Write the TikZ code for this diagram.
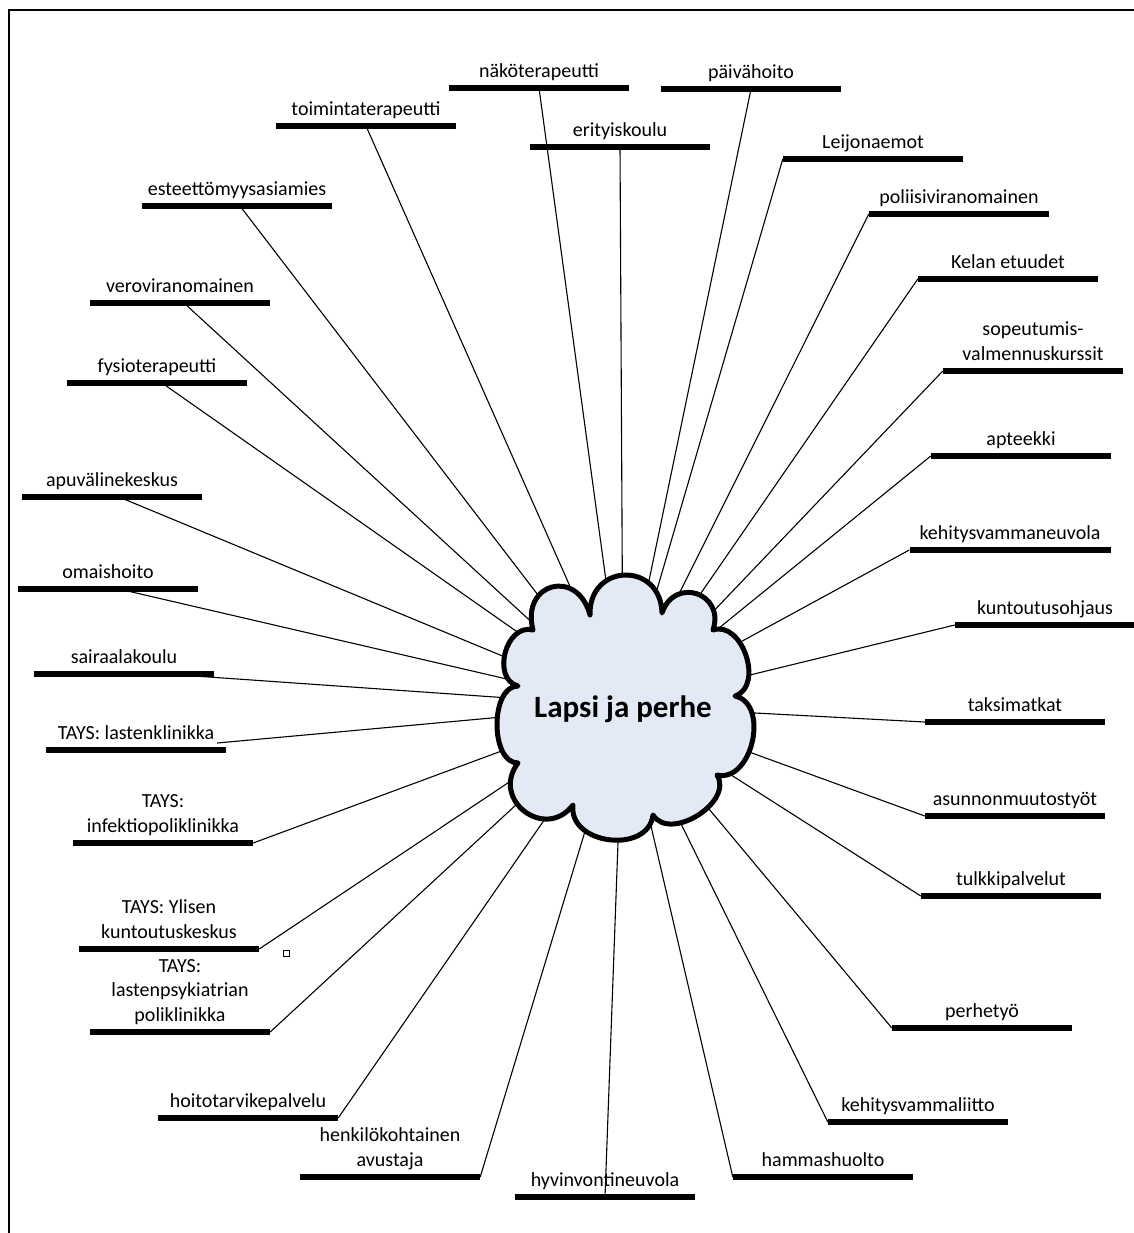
\documentclass[tikz,border=0pt]{standalone}
\usepackage{fontspec}
\setmainfont{Carlito}
\usetikzlibrary{calc}
\definecolor{cloudfill}{RGB}{227,234,246}
\newcommand\leaf[5]{%
  \node[bar, minimum width=#4pt] (#1) at (#2,#3) {};
  \node[lbl] (#1t) at (#1.north) {#5\strut};
}
\begin{document}
\begin{tikzpicture}[x=1pt,y=-1pt,
  bar/.style={rectangle, fill=black, minimum height=6pt, inner sep=0pt},
  lbl/.style={font=\fontsize{20}{24.4}\selectfont, align=center, anchor=south, inner sep=0pt},
  conn/.style={line width=1.1pt, black},
  cloudshape/.style={line width=5pt, fill=cloudfill, draw=black, line join=round},
  title/.style={font=\fontsize{31}{37}\selectfont\bfseries, anchor=base, inner sep=0pt},
  frame/.style={line width=2pt, black}]
\useasboundingbox (0,0) rectangle (1134,1233);
\draw[frame] (9,1233) -- (9,10) -- (1134,10);

\coordinate (ctr) at (623,706);

\leaf{nako}{539}{88}{180}{näköterapeutti}
\leaf{paiva}{751}{89}{180}{päivähoito}
\leaf{toim}{366}{126}{180}{toimintaterapeutti}
\leaf{erit}{620}{147}{180}{erityiskoulu}
\leaf{leij}{873}{159}{180}{Leijonaemot}
\leaf{este}{237}{206}{190}{esteettömyysasiamies}
\leaf{poli}{959}{214}{180}{poliisiviranomainen}
\leaf{kela}{1008}{279}{180}{Kelan etuudet}
\leaf{vero}{180}{303}{180}{veroviranomainen}
\leaf{sope}{1033}{371}{180}{sopeutumis-\\valmennuskurssit}
\leaf{fysi}{157}{383}{180}{fysioterapeutti}
\leaf{apte}{1021}{456}{180}{apteekki}
\leaf{apuv}{112}{497}{180}{apuvälinekeskus}
\leaf{kehn}{1010}{550}{201}{kehitysvammaneuvola}
\leaf{omai}{108}{589}{180}{omaishoito}
\leaf{kunt}{1045}{625}{180}{kuntoutusohjaus}
\leaf{sair}{124}{674}{180}{sairaalakoulu}
\leaf{taks}{1015}{722}{180}{taksimatkat}
\leaf{tlas}{136}{750}{180}{TAYS: lastenklinikka}
\leaf{asun}{1015}{816}{180}{asunnonmuutostyöt}
\leaf{tinf}{163}{843}{180}{TAYS:\\infektiopoliklinikka}
\leaf{tulk}{1011}{896}{180}{tulkkipalvelut}
\leaf{tyli}{169}{949}{180}{TAYS: Ylisen\\kuntoutuskeskus}
\leaf{tpsy}{180}{1032}{180}{TAYS:\\lastenpsykiatrian\\poliklinikka}
\leaf{perh}{982}{1028}{180}{perhetyö}
\leaf{hoit}{248}{1118}{180}{hoitotarvikepalvelu}
\leaf{kehl}{918}{1122}{180}{kehitysvammaliitto}
\leaf{henk}{390}{1177}{180}{henkilökohtainen\\avustaja}
\leaf{hamm}{823}{1177}{180}{hammashuolto}
\leaf{hyvi}{605}{1197}{180}{hyvinvontineuvola}

% connectors
\draw[conn] (nako.center) -- (ctr);
\draw[conn] (paiva.center) -- (ctr);
\draw[conn] (toim.center) -- (ctr);
\draw[conn] (erit.center) -- (ctr);
\draw[conn] (leij.west) -- (ctr);
\draw[conn] ([xshift=3pt]este.center) -- (ctr);
\draw[conn] (poli.west) -- (ctr);
\draw[conn] (kela.west) -- (ctr);
\draw[conn] ([xshift=4pt]vero.center) -- (ctr);
\draw[conn] (sope.west) -- (ctr);
\draw[conn] ([xshift=5pt]fysi.center) -- (ctr);
\draw[conn] (apte.west) -- (ctr);
\draw[conn] ([xshift=7pt]apuv.center) -- (ctr);
\draw[conn] (kehn.west) -- (ctr);
\draw[conn] ([xshift=11pt]omai.center) -- (ctr);
\draw[conn] (kunt.west) -- (ctr);
\draw[conn] ([xshift=42pt]sair.center) -- (ctr);
\draw[conn] (taks.west) -- (ctr);
\draw[conn] ([xshift=-9pt,yshift=7pt]tlas.east) -- (ctr);
\draw[conn] (asun.west) -- (ctr);
\draw[conn] (tinf.east) -- (ctr);
\draw[conn] (tulk.west) -- (ctr);
\draw[conn] (tyli.east) -- (ctr);
\draw[conn] (tpsy.east) -- (ctr);
\draw[conn] (perh.west) -- (ctr);
\draw[conn] (hoit.east) -- (ctr);
\draw[conn] (kehl.west) -- (ctr);
\draw[conn] (henk.east) -- (ctr);
\draw[conn] (hamm.west) -- (ctr);
\draw[conn] (hyvi.center) -- (ctr);

% small square
\draw[line width=0.8pt, fill=white] (283,950) rectangle (289,956);

% cloud
\coordinate (v1) at (590,615);
\coordinate (v2) at (662,613);
\coordinate (v3) at (713,630);
\coordinate (v4) at (735,696);
\coordinate (v5) at (717,775);
\coordinate (v6) at (653,815);
\coordinate (v7) at (573,805);
\coordinate (v8) at (518,763);
\coordinate (v9) at (518,686);
\coordinate (v10) at (533,630);
\path[cloudshape] (v1)
  .. controls ($(v1)!52pt!90:(v2)$) and ($(v2)!52pt!-90:(v1)$) .. (v2)
  .. controls ($(v2)!39pt!90:(v3)$) and ($(v3)!39pt!-90:(v2)$) .. (v3)
  .. controls ($(v3)!31pt!90:(v4)$) and ($(v4)!31pt!-90:(v3)$) .. (v4)
  .. controls ($(v4)!36pt!90:(v5)$) and ($(v5)!36pt!-90:(v4)$) .. (v5)
  .. controls ($(v5)!32pt!90:(v6)$) and ($(v6)!32pt!-90:(v5)$) .. (v6)
  .. controls ($(v6)!40pt!90:(v7)$) and ($(v7)!40pt!-90:(v6)$) .. (v7)
  .. controls ($(v7)!46pt!90:(v8)$) and ($(v8)!46pt!-90:(v7)$) .. (v8)
  .. controls ($(v8)!28pt!90:(v9)$) and ($(v9)!28pt!-90:(v8)$) .. (v9)
  .. controls ($(v9)!28pt!90:(v10)$) and ($(v10)!28pt!-90:(v9)$) .. (v10)
  .. controls ($(v10)!49pt!90:(v1)$) and ($(v1)!49pt!-90:(v10)$) .. (v1)
  -- cycle;
\node[title] (cloud) at (623,717) {Lapsi ja perhe};
\end{tikzpicture}
\end{document}
